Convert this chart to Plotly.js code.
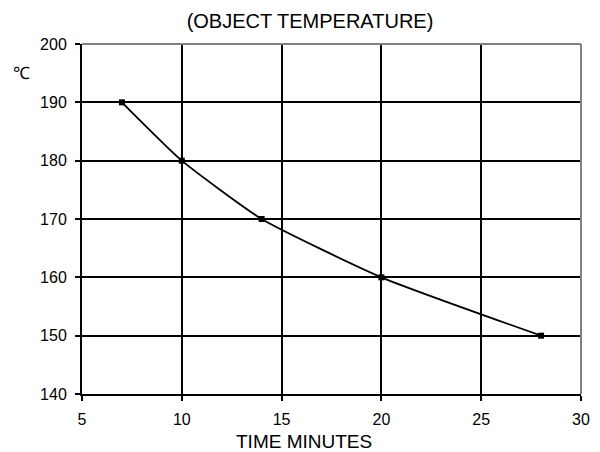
<!DOCTYPE html>
<html>
<head>
<meta charset="utf-8">
<script src="https://cdn.plot.ly/plotly-3.0.1.min.js"></script>
<style>html,body{margin:0;padding:0;background:#fff;}#chart{width:600px;height:452px;}</style>
</head>
<body>
<div id="chart"></div>
<script>
const timeMinutes = [7, 10, 14, 20, 28];
const temperature = [190, 180, 170, 160, 150];
const xTicks = [5, 10, 15, 20, 25, 30];
const yTicks = [140, 150, 160, 170, 180, 190, 200];
const titleText = "(OBJECT TEMPERATURE)";
const xTitle = "TIME MINUTES";
const yUnit = "℃";

const font = "Liberation Sans, Arial, sans-serif";

Plotly.newPlot("chart", [{
  x: timeMinutes,
  y: temperature,
  type: "scatter",
  mode: "lines+markers",
  line: {color: "#000", width: 1.8, shape: "spline", smoothing: 0.5},
  marker: {symbol: "square", size: 6, color: "#000"},
  hoverinfo: "none",
  cliponaxis: false
}], {
  width: 600, height: 452,
  paper_bgcolor: "#fff", plot_bgcolor: "#fff",
  margin: {l: 82, r: 19, t: 44, b: 58},
  showlegend: false,
  title: {text: titleText, font: {family: font, size: 20, color: "#000"}, x: 310/600, xanchor: "center", y: 1 - 21/452, yanchor: "middle", yref: "container"},
  xaxis: {
    range: [5, 30], tickvals: xTicks, ticktext: xTicks.map(String),
    showgrid: true, gridcolor: "#000", gridwidth: 2,
    showline: true, linecolor: "#000", linewidth: 2,
    ticks: "outside", ticklen: 5, tickcolor: "#000", tickwidth: 2,
    ticklabelstandoff: 5,
    zeroline: false,
    tickfont: {family: font, size: 16, color: "#000"}
  },
  yaxis: {
    range: [140, 200], tickvals: yTicks, ticktext: yTicks.map(String),
    showgrid: true, gridcolor: "#000", gridwidth: 2,
    showline: true, linecolor: "#000", linewidth: 2,
    ticks: "outside", ticklen: 5, tickcolor: "#000", tickwidth: 2,
    ticklabelstandoff: 5,
    zeroline: false,
    tickfont: {family: font, size: 16, color: "#000"}
  },
  shapes: [
    {type: "line", xref: "paper", yref: "paper", x0: 0, x1: 1, y0: 1, y1: 1, line: {color: "#808080", width: 2}},
    {type: "line", xref: "paper", yref: "paper", x0: 1, x1: 1, y0: 0, y1: 1, line: {color: "#808080", width: 2}}
  ],
  annotations: [
    {text: yUnit, xref: "paper", yref: "paper", x: (21.5 - 82) / 499, y: (394 - 73) / 350, xanchor: "center", yanchor: "middle", showarrow: false, font: {family: font, size: 17, color: "#000"}},
    {text: xTitle, xref: "paper", yref: "paper", x: (304 - 82) / 499, y: (394 - 441) / 350, xanchor: "center", yanchor: "middle", showarrow: false, font: {family: font, size: 19, color: "#000"}}
  ]
}, {staticPlot: true});
</script>
</body>
</html>
